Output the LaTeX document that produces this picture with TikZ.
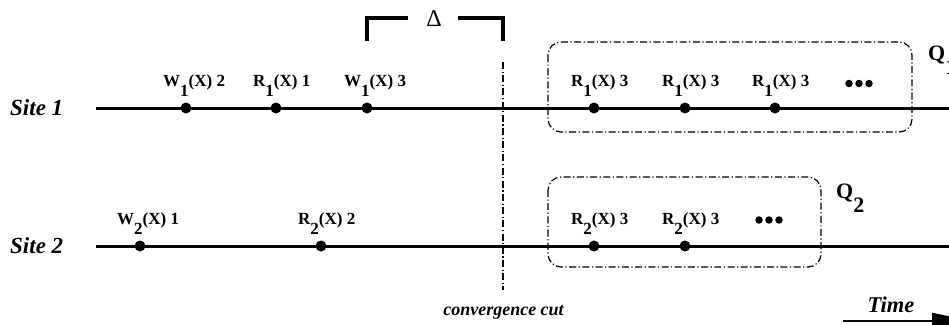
\documentclass[tikz,border=0pt]{standalone}
\usepackage{fontspec}
\setmainfont{Liberation Serif}
\usetikzlibrary{arrows.meta}
\tikzset{
  timeline/.style={line width=3pt},
  event/.style={circle, fill=black, inner sep=0pt, minimum size=11pt},
  evlabel/.style={anchor=base west, inner sep=0pt, font=\fontsize{17}{17}\bfseries\selectfont},
  sitelabel/.style={anchor=west, inner sep=0pt, font=\fontsize{23}{23}\bfseries\itshape\selectfont},
  dashdot/.style={line width=1.2pt, dash pattern=on 7pt off 2.5pt on 1.2pt off 2.5pt},
  qbox/.style={dashdot, rounded corners=13pt},
  bracketline/.style={line width=3.4pt, line join=miter},
  ellipsisdot/.style={circle, fill=black, inner sep=0pt, minimum size=7.5pt},
  qlabel/.style={anchor=base west, inner sep=0pt, font=\fontsize{22}{22}\bfseries\selectfont},
}
\newcommand\lowsub[1]{\raisebox{-0.64em}{#1}}
\begin{document}
\begin{tikzpicture}[x=1pt,y=-1pt]
\useasboundingbox (0,0) rectangle (949,324);
\clip (0,0) rectangle (949,324);

% Site 1
\node[sitelabel] (site1) at (10,108) {Site 1};
\coordinate (s1a) at (96,108);
\coordinate (s1b) at (955,108);
\draw[timeline] (s1a) -- (s1b);
\node[event] (e11) at (186,108) {};
\node[event] (e12) at (276,108) {};
\node[event] (e13) at (367,108) {};
\node[event] (e14) at (594,108) {};
\node[event] (e15) at (685,108) {};
\node[event] (e16) at (775,108) {};
\node[evlabel] (l11) at ([xshift=-23pt,yshift=22pt]e11.center) {W\lowsub{1}(X) 2};
\node[evlabel] (l12) at ([xshift=-23pt,yshift=22pt]e12.center) {R\lowsub{1}(X) 1};
\node[evlabel] (l13) at ([xshift=-23pt,yshift=22pt]e13.center) {W\lowsub{1}(X) 3};
\node[evlabel] (l14) at ([xshift=-23pt,yshift=22pt]e14.center) {R\lowsub{1}(X) 3};
\node[evlabel] (l15) at ([xshift=-23pt,yshift=22pt]e15.center) {R\lowsub{1}(X) 3};
\node[evlabel] (l16) at ([xshift=-23pt,yshift=22pt]e16.center) {R\lowsub{1}(X) 3};
\node[ellipsisdot] (d11) at (849,83.5) {};
\node[ellipsisdot] (d12) at (859,83.5) {};
\node[ellipsisdot] (d13) at (869,83.5) {};
\draw[qbox] (548,42) rectangle (912,132);
\node[qlabel] (q1) at (928,60) {Q\lowsub{1}};

% Site 2
\node[sitelabel] (site2) at (10,246) {Site 2};
\coordinate (s2a) at (96,246);
\coordinate (s2b) at (955,246);
\draw[timeline] (s2a) -- (s2b);
\node[event] (e21) at (140,246) {};
\node[event] (e22) at (321,246) {};
\node[event] (e23) at (594,246) {};
\node[event] (e24) at (685,246) {};
\node[evlabel] (l21) at ([xshift=-23pt,yshift=22pt]e21.center) {W\lowsub{2}(X) 1};
\node[evlabel] (l22) at ([xshift=-23pt,yshift=22pt]e22.center) {R\lowsub{2}(X) 2};
\node[evlabel] (l23) at ([xshift=-23pt,yshift=22pt]e23.center) {R\lowsub{2}(X) 3};
\node[evlabel] (l24) at ([xshift=-23pt,yshift=22pt]e24.center) {R\lowsub{2}(X) 3};
\node[ellipsisdot] (d21) at (759,220) {};
\node[ellipsisdot] (d22) at (769,220) {};
\node[ellipsisdot] (d23) at (779,220) {};
\draw[qbox] (548,177) rectangle (821,267);
\node[qlabel] (q2) at (836,198) {Q\lowsub{2}};

% convergence cut
\coordinate (cuttop) at (503,62);
\coordinate (cutbot) at (503,290);
\draw[dashdot] (cuttop) -- (cutbot);
\node[inner sep=0pt, font=\fontsize{18}{18}\bfseries\itshape\selectfont] (cutlabel) at (503.5,312) {convergence cut};

% Delta bracket
\node[inner sep=0pt, font=\fontsize{24}{24}\selectfont] (delta) at (434,19) {Δ};
\coordinate (bl1) at (367,41);
\coordinate (bl2) at (367,18);
\coordinate (bl3) at (408,18);
\coordinate (br1) at (458,18);
\coordinate (br2) at (503,18);
\coordinate (br3) at (503,41);
\draw[bracketline] (bl1) -- (bl2) -- (bl3);
\draw[bracketline] (br1) -- (br2) -- (br3);

% Time arrow
\node[inner sep=0pt, font=\fontsize{22.5}{22.5}\bfseries\itshape\selectfont] (time) at (891,305) {Time};
\coordinate (ta) at (843,321);
\coordinate (tb) at (972,321);
\draw[line width=2pt, -{Triangle[length=40pt,width=16pt]}] (ta) -- (tb);
\end{tikzpicture}
\end{document}
